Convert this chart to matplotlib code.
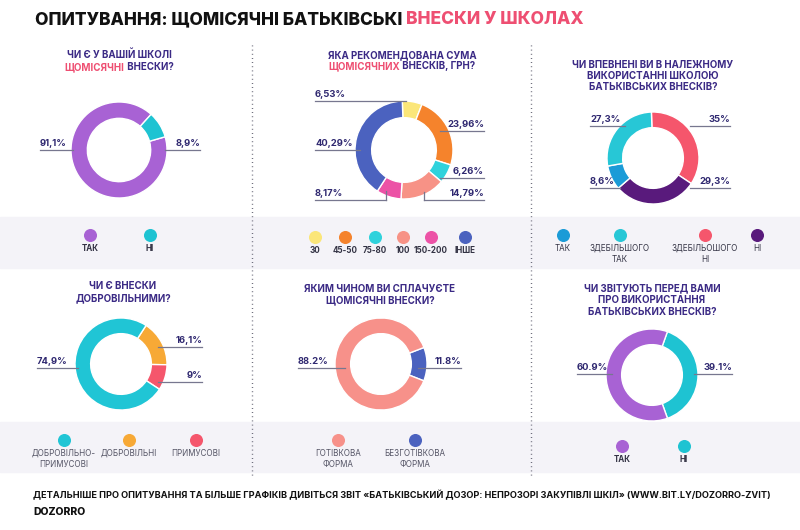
import matplotlib.pyplot as plt
import numpy as np

plt.rcParams['font.family'] = ['Inter', 'DejaVu Sans']

W, H = 800, 530

# --- data ---
q1_labels = ['ТАК', 'НІ']
q1_values = [91.1, 8.9]
q1_colors = ['#a862d4', '#1ec3d2']

q2_labels = ['30', '45-50', '75-80', '100', '150-200', 'ІНШЕ']
q2_values = [6.53, 23.96, 6.26, 14.79, 8.17, 40.29]
q2_colors = ['#fbe679', '#f5832c', '#2fd2dc', '#f79286', '#ec52a6', '#4b62bf']

q3_labels = ['ТАК', 'ЗДЕБІЛЬШОГО\nТАК', 'ЗДЕБІЛЬОШОГО\nНІ', 'НІ']
q3_values = [8.6, 27.3, 35.0, 29.3]
q3_colors = ['#1b9bd7', '#27c7d6', '#f5566c', '#591a7c']

q4_labels = ['ДОБРОВІЛЬНО-\nПРИМУСОВІ', 'ДОБРОВІЛЬНІ', 'ПРИМУСОВІ']
q4_values = [74.9, 16.1, 9.0]
q4_colors = ['#20c5d5', '#f7a936', '#f5566c']

q5_labels = ['ГОТІВКОВА\nФОРМА', 'БЕЗГОТІВКОВА\nФОРМА']
q5_values = [88.2, 11.8]
q5_colors = ['#f7918a', '#4b62bf']

q6_labels = ['ТАК', 'НІ']
q6_values = [60.9, 39.1]
q6_colors = ['#a862d4', '#1ec3d2']

NAVY = '#2f2870'
TITLE_C = '#3b2a85'
PINK = '#ee4f72'
LINE_C = '#77778f'

fig = plt.figure(figsize=(W / 100, H / 100), dpi=100)
ax = fig.add_axes([0, 0, 1, 1])
renderer = fig.canvas.get_renderer()


def Y(y):
    return H - y


def parts_line(x, y, parts, size, weight='bold', ha='center'):
    # several coloured pieces on one line, measured and placed side by side
    texts = [ax.text(0, Y(y), s, color=c, fontsize=size, fontweight=weight,
                     va='center', ha='left') for s, c in parts]
    widths = [t.get_window_extent(renderer).width for t in texts]
    x0 = x - sum(widths) / 2 if ha == 'center' else x
    for t, w in zip(texts, widths):
        t.set_x(x0)
        x0 += w


def donut(cx, cy, r, values, colors, start):
    ax.pie(values, colors=colors, center=(cx, Y(cy)), radius=r,
           startangle=start, counterclock=False, frame=True,
           wedgeprops=dict(width=r * 0.34, edgecolor='white', linewidth=1))


def leader(text, x0, x1, y, side):
    ax.plot([x0, x1], [Y(y), Y(y)], color=LINE_C, lw=0.9)
    if side == 'left':
        ax.text(x0, Y(y - 2), text, ha='left', va='bottom', fontsize=6.8,
                fontweight='bold', color=NAVY)
    else:
        ax.text(x1, Y(y - 2), text, ha='right', va='bottom', fontsize=6.8,
                fontweight='bold', color=NAVY)


def legend(xs, y, labels, colors, weight='bold', tcol='#333344'):
    for x, lab, col in zip(xs, labels, colors):
        ax.scatter([x], [Y(y)], s=70, color=col, zorder=3)
        ax.text(x, Y(y + 9), lab, ha='center', va='top', fontsize=5.8,
                fontweight=weight, color=tcol, linespacing=1.3)


# background bands
ax.axhspan(Y(268), Y(217), color='#f4f3f8', zorder=0)
ax.axhspan(Y(472), Y(422), color='#f4f3f8', zorder=0)

# dotted separators
for sx in [252, 531]:
    ax.plot([sx, sx], [Y(45), Y(476)], color='#555566', lw=1.0,
            linestyle=(0, (0.6, 2.4)), zorder=1)

# main title
parts_line(35, 20, [('ОПИТУВАННЯ: ЩОМІСЯЧНІ БАТЬКІВСЬКІ ', '#111111'),
                    ('ВНЕСКИ У ШКОЛАХ', PINK)], 12.5, weight='heavy', ha='left')

# panel 1
parts_line(119, 55, [('ЧИ Є У ВАШІЙ ШКОЛІ', TITLE_C)], 7)
parts_line(119, 67, [('ЩОМІСЯЧНІ', PINK), (' ВНЕСКИ?', TITLE_C)], 7)
donut(119, 150, 48, q1_values, q1_colors, 16.0)
leader('91,1%', 40, 73, 150, 'left')
leader('8,9%', 165, 200, 150, 'right')
legend([90, 150], 235, q1_labels, q1_colors)

# panel 2
parts_line(402, 55, [('ЯКА РЕКОМЕНДОВАНА СУМА', TITLE_C)], 7)
parts_line(402, 66, [('ЩОМІСЯЧНИХ', PINK), (' ВНЕСКІВ, ГРН?', TITLE_C)], 7)
donut(404, 150, 49, q2_values, q2_colors, 92)
leader('6,53%', 315, 406, 101, 'left')
leader('23,96%', 440, 484, 131, 'right')
leader('40,29%', 315, 360, 150, 'left')
leader('6,26%', 440, 484, 178, 'right')
leader('14,79%', 424, 484, 200, 'right')
ax.plot([424, 424], [Y(200), Y(192)], color=LINE_C, lw=0.9)
leader('8,17%', 315, 386, 200, 'left')
ax.plot([386, 386], [Y(200), Y(191)], color=LINE_C, lw=0.9)
legend([315, 345, 375, 403, 431, 465], 237, q2_labels, q2_colors)

# panel 3
parts_line(653, 65, [('ЧИ ВПЕВНЕНІ ВИ В НАЛЕЖНОМУ', TITLE_C)], 7)
parts_line(653, 76, [('ВИКОРИСТАННІ ШКОЛОЮ', TITLE_C)], 7)
parts_line(653, 87, [('БАТЬКІВСЬКИХ ВНЕСКІВ?', TITLE_C)], 7)
q3_order = [2, 3, 0, 1]
donut(653, 158, 46, [q3_values[i] for i in q3_order],
      [q3_colors[i] for i in q3_order], 92)
leader('27,3%', 590, 625, 126, 'left')
leader('35%', 690, 730, 126, 'right')
leader('8,6%', 590, 620, 188, 'left')
leader('29,3%', 690, 730, 188, 'right')
legend([563, 620, 705, 757], 235, q3_labels, q3_colors, weight='normal')

# panel 4
parts_line(123, 286, [('ЧИ Є ВНЕСКИ', TITLE_C)], 7)
parts_line(123, 298, [('ДОБРОВІЛЬНИМИ?', TITLE_C)], 7)
q4_order = [1, 2, 0]
donut(121, 364, 46, [q4_values[i] for i in q4_order],
      [q4_colors[i] for i in q4_order], 57)
leader('74,9%', 37, 78, 368, 'left')
leader('16,1%', 158, 202, 347, 'right')
leader('9%', 158, 202, 382, 'right')
legend([64, 129, 196], 440, q4_labels, q4_colors, weight='normal',
       tcol='#555566')

# panel 5
parts_line(380, 289, [('ЯКИМ ЧИНОМ ВИ СПЛАЧУЄТЕ', TITLE_C)], 7)
parts_line(380, 300, [('ЩОМІСЯЧНІ ВНЕСКИ?', TITLE_C)], 7)
q5_order = [1, 0]
donut(381, 364, 46, [q5_values[i] for i in q5_order],
      [q5_colors[i] for i in q5_order], 21)
leader('88.2%', 298, 345, 368, 'left')
leader('11.8%', 418, 461, 368, 'right')
legend([338, 415], 440, q5_labels, q5_colors, weight='normal',
       tcol='#555566')

# panel 6
parts_line(652, 288, [('ЧИ ЗВІТУЮТЬ ПЕРЕД ВАМИ', TITLE_C)], 7)
parts_line(652, 300, [('ПРО ВИКОРИСТАННЯ', TITLE_C)], 7)
parts_line(652, 312, [('БАТЬКІВСЬКИХ ВНЕСКІВ?', TITLE_C)], 7)
q6_order = [1, 0]
donut(652, 375, 46, [q6_values[i] for i in q6_order],
      [q6_colors[i] for i in q6_order], 70.4)
leader('60.9%', 577, 612, 374, 'left')
leader('39.1%', 694, 732, 374, 'right')
legend([622, 684], 446, q6_labels, q6_colors)

# footer
ax.text(33, Y(495), 'ДЕТАЛЬНІШЕ ПРО ОПИТУВАННЯ ТА БІЛЬШЕ ГРАФІКІВ ДИВІТЬСЯ ЗВІТ '
        '«БАТЬКІВСЬКИЙ ДОЗОР: НЕПРОЗОРІ ЗАКУПІВЛІ ШКІЛ» (WWW.BIT.LY/DOZORRO-ZVIT)',
        ha='left', va='center', fontsize=6.6, fontweight='bold', color='#111111')
ax.text(33, Y(512), 'DOZORRO', ha='left', va='center', fontsize=7.5,
        fontweight='heavy', color='#111111')

ax.set_xlim(0, W)
ax.set_ylim(0, H)
ax.set_aspect('auto')
ax.axis('off')

fig.savefig('out.png', dpi=100, facecolor='white')
